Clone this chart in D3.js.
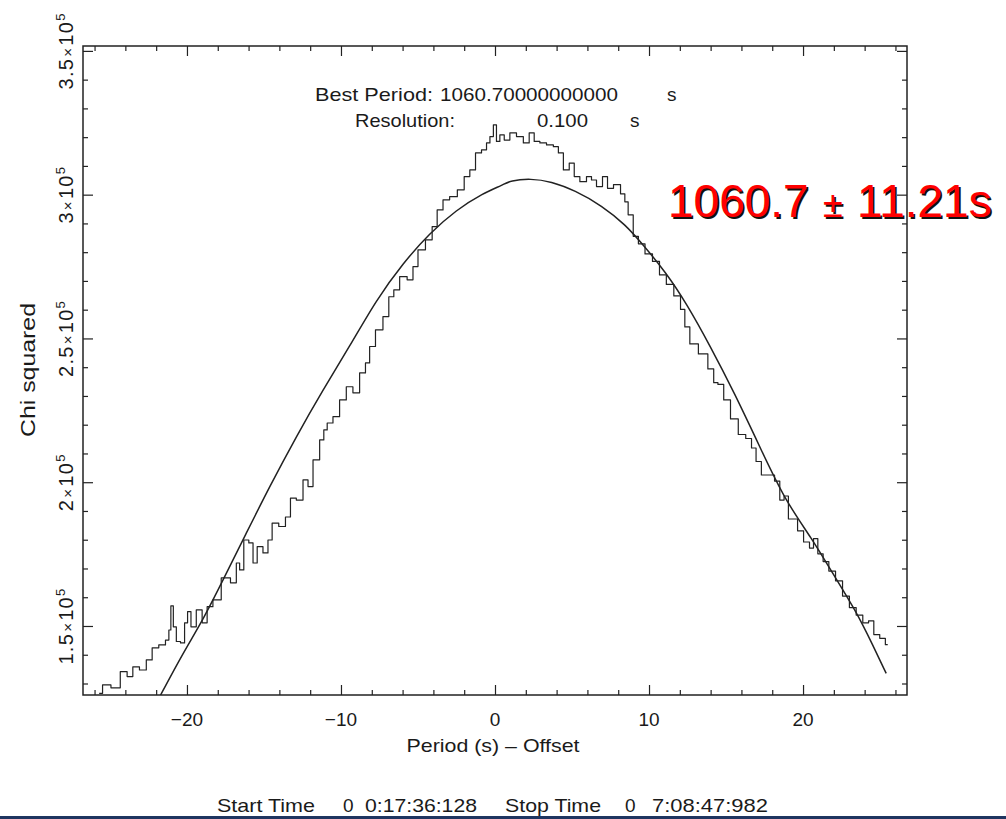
<!DOCTYPE html>
<html>
<head>
<meta charset="utf-8">
<script src="https://cdn.jsdelivr.net/npm/d3@7"></script>
<style>
  body { margin: 0; background: #fff; }
  svg { display: block; }
  text { font-family: "Liberation Sans", Arial, sans-serif; fill: #1a1a1a; }
</style>
</head>
<body>
<svg id="chart" width="1006" height="819"></svg>
<script>
// Period search: chi-squared versus trial period (offset from 1060 s)
const periodOffset = [
  -25.70, -25.26, -24.61, -24.05, -23.72, -23.31, -22.86, -22.42, -22.10, -21.56,
  -21.23, -21.12, -20.97, -20.80, -20.58, -20.26, -20.05, -19.87, -19.61, -19.18,
  -18.85, -18.53, -18.10, -17.45, -16.90, -16.69, -16.47, -16.15, -15.82, -15.60,
  -15.28, -14.85, -14.63, -14.31, -13.77, -13.44, -13.12, -12.68, -12.25, -12.03,
  -11.60, -11.17, -11.06, -10.73, -10.31, -9.87, -9.44, -9.01, -8.57, -8.25,
  -8.03, -7.49, -7.06, -6.73, -6.41, -5.97, -5.44, -5.21, -4.79, -4.24,
  -3.92, -3.59, -3.16, -2.73, -2.16, -1.84, -1.43, -1.10, -0.65, -0.45,
  -0.21, 0.00, 0.19, 0.44, 0.76, 1.17, 1.62, 2.06, 2.38, 2.71,
  3.12, 3.57, 4.01, 4.22, 4.66, 4.98, 5.31, 5.71, 6.17, 6.36,
  6.82, 7.14, 7.47, 7.92, 8.38, 8.48, 8.81, 9.14, 9.48, 10.00,
  10.45, 10.91, 11.34, 11.88, 12.21, 12.44, 12.86, 13.55, 14.09, 14.31,
  14.64, 15.06, 15.52, 16.07, 16.49, 16.82, 17.08, 17.51, 17.92, 18.38,
  18.60, 18.94, 19.16, 19.48, 19.81, 20.26, 20.58, 20.78, 21.14, 21.47,
  21.88, 22.34, 22.79, 23.23, 23.67, 24.09, 24.42, 24.77, 25.19, 25.50
];
const chiSquared = [
  126600, 129500, 128500, 134100, 132400, 135800, 134700, 138200, 142400, 143400,
  145100, 148600, 157000, 149700, 144600, 144100, 151100, 155000, 149700, 155600,
  151100, 156700, 159100, 166700, 165000, 171900, 169500, 179900, 178900, 171900,
  177600, 175400, 179900, 185800, 184600, 187900, 194500, 193800, 200800, 198500,
  207800, 214700, 218200, 220600, 222800, 228600, 233200, 231100, 238000, 241500,
  247200, 253000, 257600, 264500, 266900, 271500, 270400, 275000, 280800, 284300,
  288900, 294700, 298200, 299300, 301700, 306300, 308600, 314500, 315600, 318000,
  320200, 324300, 318500, 320800, 319000, 321500, 320200, 318000, 321500, 318500,
  318000, 317300, 316700, 314500, 308600, 311000, 306300, 304500, 306300, 305100,
  302800, 306300, 302200, 303500, 300300, 297500, 293000, 285500, 282900, 279400,
  276800, 272100, 268800, 264800, 260100, 254000, 248100, 244600, 239400, 234600,
  234000, 228600, 222000, 216600, 215200, 211900, 207200, 202500, 202500, 200400,
  193800, 195200, 187200, 187200, 183100, 179200, 177100, 180400, 175100, 172400,
  169100, 165700, 160400, 156400, 153800, 151100, 151800, 147000, 145700, 143500
];

// Fitted profile through the chi-squared peak
const fitOffset = [
  -21.77, -20.26, -18.96, -17.66, -16.15, -14.63, -12.90, -11.17, -9.44, -7.71,
  -5.97, -4.24, -2.51, -0.78, 0.52, 0.99, 2.32, 3.64, 5.18, 6.94,
  8.48, 9.58, 11.12, 12.44, 13.98, 15.52, 17.29, 18.82, 20.58, 21.91,
  23.45, 24.55, 25.40
];
const fitChiSquared = [
  125400, 140600, 152100, 166000, 182300, 198500, 215900, 232100, 247200, 263400,
  276200, 286600, 294700, 300500, 303400, 304900, 305600, 304600, 301500, 296200,
  289500, 282800, 272800, 262100, 247300, 231300, 211200, 193800, 180400, 168400,
  155100, 143100, 133500
];

const xMajorTicks = [-20, -10, 0, 10, 20];
const xTickLabels = ["\u221220", "\u221210", "0", "10", "20"];
const yMajorTicks = [150000, 200000, 250000, 300000, 350000];
const yTickMantissa = ["1.5", "2", "2.5", "3", "3.5"];
const yTickExponent = "5";

const xAxisTitle = "Period (s) \u2013 Offset";
const yAxisTitle = "Chi squared";
const bestPeriodLine = ["Best Period:", "1060.70000000000", "s"];
const resolutionLine = ["Resolution:", "0.100", "s"];
const timeLine = ["Start Time", "0", "0:17:36:128", "Stop Time", "0", "7:08:47:982"];
const resultLabel = ["1060.7", "\u00b1", "11.21s"];

const svg = d3.select("#chart");
const W = 1006, H = 819;
svg.append("rect").attr("width", W).attr("height", H).attr("fill", "#fff");

const frame = { left: 83, right: 907, top: 46, bottom: 695 };
const x = d3.scaleLinear([-26.75, 26.75], [frame.left, frame.right]);
const y = d3.scaleLinear([126000, 351700], [frame.bottom, frame.top]);

const xMinorTicks = d3.range(-26, 27, 2).filter(v => !xMajorTicks.includes(v));
const yMinorTicks = d3.range(130000, 351000, 10000).filter(v => !yMajorTicks.includes(v));

const ink = "#222";

// Inward-pointing ticks on all four sides
function tickAxis(gen, values, size, tx, ty) {
  const g = svg.append("g")
    .attr("transform", `translate(${tx},${ty})`)
    .call(gen.tickValues(values).tickSizeInner(-size).tickSizeOuter(0).tickFormat(""));
  g.select(".domain").remove();
  g.selectAll(".tick line").attr("stroke", ink).attr("stroke-width", 1.2);
  return g;
}
tickAxis(d3.axisBottom(x), xMajorTicks, 10, 0, frame.bottom);
tickAxis(d3.axisBottom(x), xMinorTicks, 5, 0, frame.bottom);
tickAxis(d3.axisTop(x), xMajorTicks, 10, 0, frame.top);
tickAxis(d3.axisTop(x), xMinorTicks, 5, 0, frame.top);
tickAxis(d3.axisLeft(y), yMajorTicks, 10, frame.left, 0);
tickAxis(d3.axisLeft(y), yMinorTicks, 5, frame.left, 0);
tickAxis(d3.axisRight(y), yMajorTicks, 10, frame.right, 0);
tickAxis(d3.axisRight(y), yMinorTicks, 5, frame.right, 0);

svg.append("rect")
  .attr("x", frame.left).attr("y", frame.top)
  .attr("width", frame.right - frame.left).attr("height", frame.bottom - frame.top)
  .attr("fill", "none").attr("stroke", ink).attr("stroke-width", 1.5);

// X tick labels
svg.append("g").selectAll("text")
  .data(xMajorTicks)
  .join("text")
  .attr("x", d => x(d))
  .attr("y", 726)
  .attr("text-anchor", "middle")
  .attr("font-size", 19)
  .text((d, i) => xTickLabels[i]);

// Y tick labels, rotated, with power-of-ten notation
const yLab = svg.append("g").selectAll("text")
  .data(yMajorTicks)
  .join("text")
  .attr("transform", d => `translate(73,${y(d)}) rotate(-90)`)
  .attr("text-anchor", "middle")
  .attr("font-size", 20)
  .attr("letter-spacing", 1.3);
yLab.append("tspan").text((d, i) => yTickMantissa[i]);
yLab.append("tspan").attr("font-size", 15).attr("dx", 1).text("\u00d7");
yLab.append("tspan").attr("dx", 1).text("10");
yLab.append("tspan").attr("font-size", 13).attr("dy", -8).text(yTickExponent);

// Axis titles
svg.append("text")
  .attr("x", 493).attr("y", 752)
  .attr("text-anchor", "middle").attr("font-size", 19)
  .attr("textLength", 173).attr("lengthAdjust", "spacingAndGlyphs")
  .text(xAxisTitle);
svg.append("text")
  .attr("transform", "translate(35,370) rotate(-90)")
  .attr("text-anchor", "middle").attr("font-size", 20)
  .attr("textLength", 134).attr("lengthAdjust", "spacingAndGlyphs")
  .text(yAxisTitle);

// Header lines inside the plot, plus the time span underneath
const headerFont = 19;
function placeRow(parts, xs, widths, baseline) {
  parts.forEach((t, i) => {
    const el = svg.append("text")
      .attr("x", xs[i]).attr("y", baseline)
      .attr("font-size", headerFont)
      .text(t);
    if (widths[i]) el.attr("textLength", widths[i]).attr("lengthAdjust", "spacingAndGlyphs");
  });
}
placeRow(bestPeriodLine, [315, 440, 667], [118, 178, 0], 101);
placeRow(resolutionLine, [355, 537, 630], [100, 51, 0], 127);
placeRow(timeLine, [217, 343, 365, 505, 625, 652], [98, 0, 112, 96, 0, 116], 812);

// Data and fit curves
svg.append("clipPath").attr("id", "plotClip")
  .append("rect")
  .attr("x", frame.left).attr("y", frame.top)
  .attr("width", frame.right - frame.left).attr("height", frame.bottom - frame.top);

const stepLine = d3.line()
  .x((d, i) => x(periodOffset[i]))
  .y(d => y(d))
  .curve(d3.curveStep);
svg.append("path")
  .attr("clip-path", "url(#plotClip)")
  .attr("d", stepLine(chiSquared))
  .attr("fill", "none").attr("stroke", ink).attr("stroke-width", 1.2)
  .attr("stroke-linejoin", "round");

const fitLine = d3.line()
  .x((d, i) => x(fitOffset[i]))
  .y(d => y(d))
  .curve(d3.curveBasis);
svg.append("path")
  .attr("clip-path", "url(#plotClip)")
  .attr("d", fitLine(fitChiSquared))
  .attr("fill", "none").attr("stroke", ink).attr("stroke-width", 1.5);

// Result annotation with drop shadow
function resultText(dx, dy, color) {
  const t = svg.append("text")
    .attr("y", 217 + dy)
    .attr("font-size", 46)
    .style("fill", color);
  t.append("tspan").attr("x", 668 + dx).text(resultLabel[0]);
  t.append("tspan").attr("x", 823 + dx).attr("font-size", 36).text(resultLabel[1]);
  t.append("tspan").attr("x", 857 + dx).text(resultLabel[2]);
}
resultText(1.8, 1.8, "#111");
resultText(0, 0, "#ff0000");

// Bottom rule
svg.append("rect")
  .attr("x", 0).attr("y", 816).attr("width", W).attr("height", 3)
  .attr("fill", "#1f3560");
</script>
</body>
</html>
